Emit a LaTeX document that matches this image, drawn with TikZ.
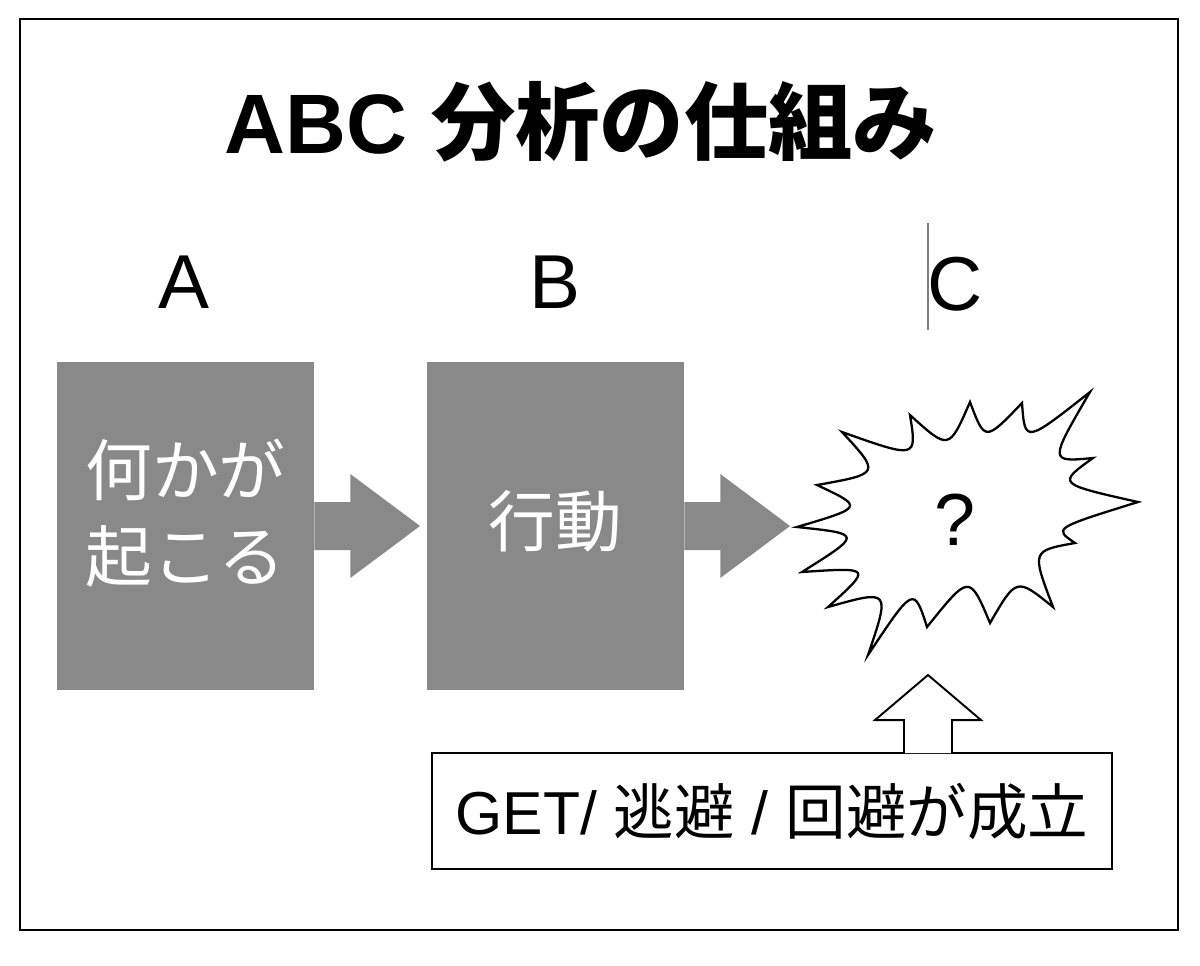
\documentclass[tikz,border=0pt]{standalone}
\usepackage{fontspec}
\setmainfont{Liberation Sans}
\newfontfamily\jp{Noto Sans CJK JP}
\usetikzlibrary{calc}
\definecolor{boxgray}{RGB}{136,137,136}

\begin{document}
\begin{tikzpicture}[x=0.02cm, y=-0.02cm,
    blk/.style={fill=boxgray, minimum width=5.14cm, minimum height=6.56cm, inner sep=0pt, text=white, align=center, font=\jp\fontsize{38}{49}\selectfont},
    lbl/.style={anchor=base, inner sep=0pt, font=\fontsize{43.5}{50}\selectfont},
    fat/.style={fill=boxgray},
    burstline/.style={draw, line width=1.3pt, line join=miter}]
    \useasboundingbox (0,0) rectangle (1200,965);
    \draw[line width=1.4pt] (20,19) rectangle (1178,930);

    \node[anchor=base, inner sep=0pt, font=\fontsize{48}{52}\selectfont\bfseries] (title) at (581,153) {ABC {\jp 分析の仕組み}};
    \node[lbl] (labA) at (184,308) {A};
    \node[lbl] (labB) at (555,308) {B};
    \node[lbl] (labC) at (955,310) {C};
    \draw[gray, line width=0.9pt] (928,223) -- (928,330);

    \node[blk, text depth=0.64cm] (boxA) at (185.5,526) {何かが\\起こる};
    \node[blk, text depth=0.3cm] (boxB) at (555.5,526) {行動};

    % burst
    \foreach \n/\x/\y in {1/842/432, 2/910/415, 3/970/402, 4/1022/403, 5/1090/392, 6/1093/458, 7/1138/502, 8/1075/543,
        9/1053/607, 10/990/623, 11/927/627, 12/868/655, 13/828/607, 14/802/572, 15/797/527, 16/817/485}
        \coordinate (t\n) at (\x,\y);
    \foreach \n/\x/\y in {1/907/450, 2/947/440, 3/988/432, 4/1033/432, 5/1060/453, 6/1072/483, 7/1067/527, 8/1040/557,
        9/1018/587, 10/967/587, 11/910/600, 12/880/600, 13/858/573, 14/847/538, 15/850/507, 16/868/470}
        \coordinate (v\n) at (\x,\y);
    \draw[burstline] (t1) \foreach \a/\b in {1/2,2/3,3/4,4/5,5/6,6/7,7/8,8/9,9/10,10/11,11/12,12/13,13/14,14/15,15/16}
        { .. controls ($1.333*(v\a)-0.1667*(t\a)-0.1667*(t\b)$) .. (t\b) }
        .. controls ($1.333*(v16)-0.1667*(t16)-0.1667*(t1)$) .. (t1) -- cycle;
    \node[anchor=base, inner sep=0pt, font=\fontsize{42}{50}\selectfont] (q) at (955,545) {?};

    % fat arrows
    \coordinate (tipA) at (420,526);
    \coordinate (tipB) at (790,526);
    \foreach \s/\t in {boxA/tipA, boxB/tipB}
        \fill[fat] ($(\s.east)+(0,-24)$) -- ($(\s.east)+(36,-24)$) -- ($(\s.east)+(36,-52)$) -- (\t)
            -- ($(\s.east)+(36,52)$) -- ($(\s.east)+(36,24)$) -- ($(\s.east)+(0,24)$) -- cycle;

    % result box with up arrow
    \node[draw, line width=1.1pt, minimum width=13.6cm, minimum height=2.32cm, inner sep=0pt,
        font=\fontsize{34.5}{40}\selectfont] (result) at (772,811) {GET/ {\jp 逃避} / {\jp 回避が成立}};
    \coordinate (uptip) at (928,675);
    \coordinate (upbase) at (result.north -| uptip);
    \filldraw[fill=white, line width=1.1pt] ($(upbase)+(-24,1)$) -- ($(upbase)+(-24,-32)$) -- ($(upbase)+(-53,-32)$) -- (uptip)
        -- ($(upbase)+(53,-32)$) -- ($(upbase)+(24,-32)$) -- ($(upbase)+(24,1)$);
\end{tikzpicture}
\end{document}
